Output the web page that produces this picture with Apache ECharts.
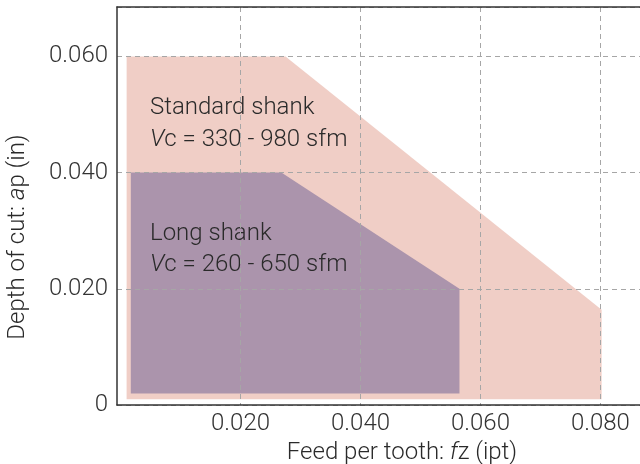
<!DOCTYPE html>
<html>
<head>
<meta charset="utf-8">
<script src="https://cdn.jsdelivr.net/npm/echarts@6/dist/echarts.min.js"></script>
<style>html,body{margin:0;padding:0;background:#fff}#c{width:640px;height:464px}</style>
</head>
<body>
<div id="c"></div>
<script>
// Data
const xTicks = [0.02, 0.04, 0.06, 0.08];
const yTicks = [0, 0.02, 0.04, 0.06];
const standardFz = [0.001, 0.001, 0.0275, 0.0802, 0.0802];
const standardAp = [0.001, 0.060, 0.060, 0.0164, 0.001];
const longFz = [0.0017, 0.0017, 0.0268, 0.0565, 0.0565];
const longAp = [0.002, 0.040, 0.040, 0.020, 0.002];
const standardLines = ['Standard shank', 'Vc = 330 - 980 sfm'];
const longLines = ['Long shank', 'Vc = 260 - 650 sfm'];

const FONT = 'Roboto';
const TXT = '#2a2a2a';
const FS = 24;

function poly(fz, ap) {
  return fz.map((v, i) => [v, ap[i]]);
}
function polySeries(fz, ap, color) {
  const pts = poly(fz, ap);
  return {
    type: 'custom',
    z: -1,
    silent: true,
    data: pts,
    encode: { x: 0, y: 1 },
    renderItem: function (params, api) {
      if (params.dataIndex !== 0) return null;
      const coords = pts.map(p => api.coord(p));
      return { type: 'polygon', shape: { points: coords }, style: { fill: color } };
    }
  };
}
function annot(lines, x, y) {
  return {
    type: 'text', x: x, y: y,
    style: {
      text: lines[0] + '\n{i|V}c' + lines[1].slice(2), fill: TXT,
      font: '300 ' + FS + 'px ' + FONT, lineHeight: 31.5,
      rich: { i: { fontStyle: 'italic', fontFamily: FONT, fontWeight: 300, fontSize: FS, fill: TXT, lineHeight: 31.5 } }
    }
  };
}

const chart = echarts.init(document.getElementById('c'), null, { renderer: 'canvas' });
const gridLine = { show: true, lineStyle: { color: '#a6a6a6', width: 1, type: [5, 4] } };

chart.setOption({
  animation: false,
  backgroundColor: '#fff',
  grid: { left: 117, top: 7, right: 0, bottom: 59, containLabel: false, outerBoundsMode: 'none' },
  xAxis: [{
    type: 'value', min: -0.0006, max: 0.0866,
    axisLine: { show: true, lineStyle: { color: '#333', width: 1.5 } },
    axisTick: { show: false, customValues: xTicks },
    splitLine: gridLine,
    axisLabel: {
      customValues: xTicks, margin: 7, color: '#333',
      fontFamily: FONT, fontWeight: 300, fontSize: FS,
      formatter: v => v.toFixed(3)
    },
    name: 'Feed per tooth: {i|f}z (ipt)',
    nameLocation: 'middle', nameGap: 35,
    nameTextStyle: {
      color: TXT, fontFamily: FONT, fontWeight: 300, fontSize: FS,
      padding: [0, 0, 0, 47],
      rich: { i: { fontStyle: 'italic', fontFamily: FONT, fontWeight: 300, fontSize: FS, color: TXT } }
    }
  }, {
    type: 'value', position: 'top', min: -0.0006, max: 0.0866,
    axisLine: { show: true, onZero: false, lineStyle: { color: '#333', width: 1.5 } },
    axisTick: { show: false }, axisLabel: { show: false }, splitLine: { show: false }
  }],
  yAxis: {
    type: 'value', min: 0, max: 0.0685, interval: 0.02,
    axisLine: { show: true, onZero: false, lineStyle: { color: '#333', width: 1.5 } },
    axisTick: { show: false },
    splitLine: gridLine,
    axisLabel: {
      margin: 9, color: '#333', showMaxLabel: false,
      fontFamily: FONT, fontWeight: 300, fontSize: FS,
      formatter: v => (v === 0 ? '0' : v.toFixed(3))
    }
  },
  graphic: [{
    type: 'text', x: 18, y: 237, rotation: Math.PI / 2,
    style: {
      text: 'Depth of cut: {i|a}p (in)', fill: TXT, align: 'center', verticalAlign: 'middle',
      font: '300 ' + FS + 'px ' + FONT,
      rich: { i: { fontStyle: 'italic', fontFamily: FONT, fontWeight: 300, fontSize: FS, fill: TXT } }
    }
  },
  annot(standardLines, 150, 92.5),
  annot(longLines, 150, 218)
  ],
  series: [
    polySeries(standardFz, standardAp, '#f0cec6'),
    polySeries(longFz, longAp, '#ab94ac')
  ]
});
</script>
</body>
</html>
